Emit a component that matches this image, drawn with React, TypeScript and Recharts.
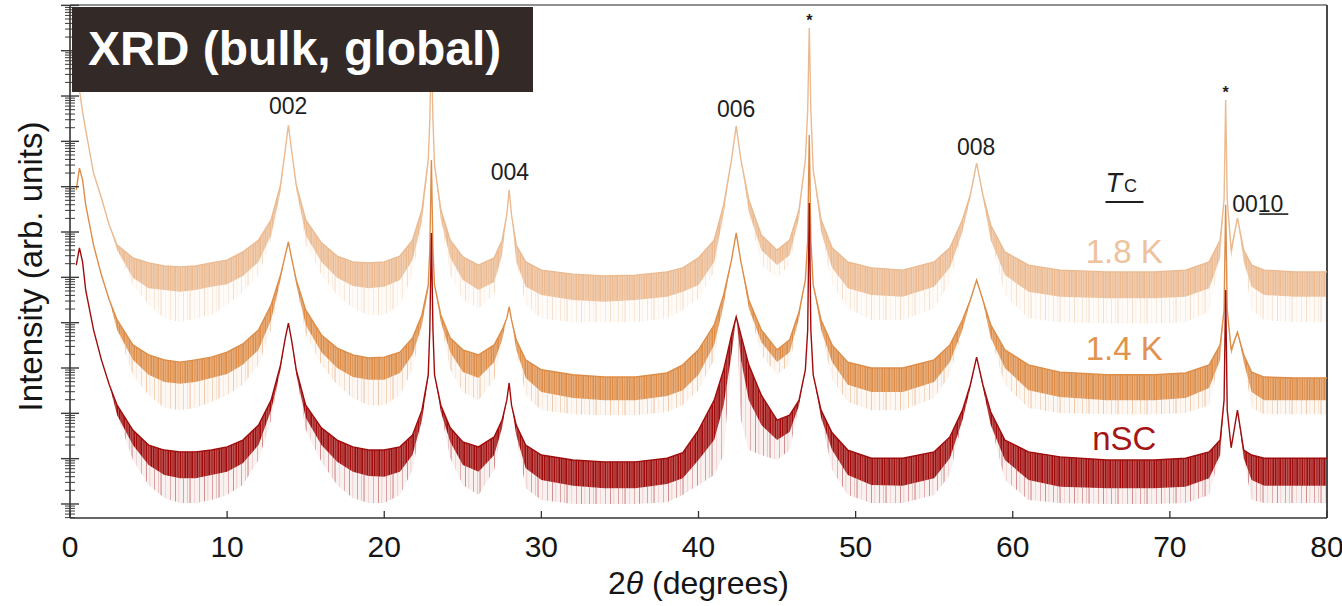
import React from 'react';
import {
  ComposedChart,
  Line,
  Area,
  XAxis,
  YAxis,
  ReferenceLine,
  ReferenceDot,
  Label,
} from 'recharts';

// ---------------- data (2θ in degrees, intensities as log10 of arb. counts) ----------------
const twoTheta = [
  0.4, 0.6, 0.8, 1.0, 1.5, 2, 2.5, 3, 4, 5,
  6, 7, 8, 9, 10, 11, 12, 12.8, 13.4, 13.7,
  13.9, 14.1, 14.4, 15, 16, 17, 18, 19, 20, 21,
  21.8, 22.4, 22.8, 22.9, 23.0, 23.1, 23.2, 23.6, 24.2, 25,
  26, 27, 27.5, 27.8, 27.95, 28.1, 28.4, 29, 30, 32,
  34, 36, 38, 39, 40, 41, 41.6, 42.1, 42.4, 42.7,
  43.2, 44, 45, 45.8, 46.4, 46.8, 46.95, 47.05, 47.15, 47.3,
  47.8, 48.5, 49.5, 51, 53, 55, 56, 56.8, 57.3, 57.7,
  58.1, 58.6, 59.5, 61, 63, 66, 69, 71, 72.5, 73.2,
  73.45, 73.55, 73.65, 73.9, 74.3, 74.7, 75.2, 76, 78, 80,
];

// Tc = 1.8 K sample: upper edge, lower edge of the dense noise, and deepest noise spikes
const k18Top = [
  10.24, 9.13, 8.65, 8.25, 7.30, 6.75, 6.15, 5.71, 5.43, 5.32,
  5.25, 5.23, 5.25, 5.32, 5.38, 5.56, 5.82, 6.27, 7.04, 7.81,
  8.36, 7.81, 7.04, 6.27, 5.76, 5.47, 5.34, 5.32, 5.34, 5.47,
  5.82, 6.49, 7.59, 8.47, 10.13, 8.47, 7.48, 6.49, 5.82, 5.45,
  5.27, 5.43, 5.82, 6.38, 6.93, 6.38, 5.71, 5.34, 5.16, 5.07,
  5.03, 5.05, 5.12, 5.21, 5.43, 5.82, 6.60, 7.59, 8.34, 7.59,
  6.71, 5.93, 5.60, 5.82, 6.49, 7.59, 8.69, 10.50, 8.69, 7.37,
  6.27, 5.65, 5.34, 5.21, 5.16, 5.34, 5.65, 6.27, 6.82, 7.52,
  6.82, 6.15, 5.56, 5.27, 5.16, 5.12, 5.12, 5.16, 5.34, 5.82,
  6.71, 8.91, 6.71, 5.60, 6.31, 5.60, 5.27, 5.16, 5.12, 5.12,
];
const k18Low = [
  10.24, 9.13, 8.65, 8.25, 7.30, 6.75, 6.15, 5.60, 4.99, 4.76,
  4.72, 4.68, 4.72, 4.79, 4.85, 5.03, 5.34, 5.93, 6.88, 7.81,
  8.36, 7.81, 6.93, 5.93, 5.34, 4.99, 4.81, 4.76, 4.79, 4.94,
  5.38, 6.22, 7.48, 8.47, 10.13, 8.47, 7.48, 6.27, 5.43, 4.94,
  4.72, 4.90, 5.49, 6.38, 6.93, 6.38, 5.34, 4.79, 4.61, 4.50,
  4.46, 4.50, 4.57, 4.68, 4.83, 5.34, 6.38, 7.59, 8.34, 7.59,
  6.44, 5.60, 5.27, 5.49, 6.31, 7.59, 8.69, 10.50, 8.69, 7.37,
  6.00, 5.21, 4.76, 4.61, 4.57, 4.79, 5.21, 6.00, 6.75, 7.52,
  6.75, 5.82, 5.05, 4.68, 4.57, 4.54, 4.54, 4.57, 4.76, 5.43,
  6.71, 8.91, 6.71, 5.43, 6.31, 5.34, 4.79, 4.61, 4.57, 4.57,
];
const k18Spike = [
  10.24, 9.13, 8.65, 8.25, 7.30, 6.75, 6.15, 5.60, 4.83, 4.39,
  4.10, 4.01, 4.10, 4.17, 4.39, 4.68, 5.05, 5.82, 6.88, 7.81,
  8.36, 7.81, 6.93, 5.71, 5.05, 4.61, 4.32, 4.17, 4.17, 4.39,
  5.05, 6.22, 7.48, 8.47, 10.13, 8.47, 7.48, 6.27, 5.05, 4.50,
  4.32, 4.61, 5.49, 6.38, 6.93, 6.38, 5.34, 4.39, 4.10, 4.01,
  4.01, 4.01, 4.10, 4.28, 4.54, 5.12, 6.38, 7.59, 8.34, 7.59,
  6.44, 5.27, 4.99, 5.27, 6.31, 7.59, 8.69, 10.50, 8.69, 7.37,
  6.00, 4.83, 4.32, 4.06, 4.06, 4.32, 4.90, 6.00, 6.75, 7.52,
  6.75, 5.82, 4.61, 4.10, 4.01, 3.99, 3.99, 4.01, 4.24, 5.43,
  6.71, 8.91, 6.71, 5.43, 6.31, 5.34, 4.28, 4.06, 4.01, 4.01,
];

// Tc = 1.4 K sample
const k14Top = [
  6.93, 7.41, 7.15, 6.60, 5.71, 5.05, 4.50, 4.06, 3.51, 3.29,
  3.18, 3.13, 3.18, 3.24, 3.35, 3.53, 3.84, 4.39, 5.05, 5.49,
  5.78, 5.43, 4.94, 4.28, 3.73, 3.44, 3.29, 3.22, 3.24, 3.35,
  3.66, 4.17, 4.83, 5.60, 7.59, 5.60, 4.83, 4.17, 3.66, 3.40,
  3.29, 3.51, 3.84, 4.10, 4.35, 4.06, 3.62, 3.18, 2.96, 2.85,
  2.80, 2.80, 2.89, 3.07, 3.40, 3.95, 4.61, 5.38, 5.98, 5.34,
  4.50, 3.84, 3.40, 3.62, 4.24, 4.94, 5.82, 8.14, 5.82, 4.83,
  4.06, 3.51, 3.13, 3.00, 3.00, 3.18, 3.51, 4.06, 4.50, 4.94,
  4.50, 3.95, 3.40, 3.07, 2.91, 2.85, 2.85, 2.89, 3.07, 3.51,
  4.28, 6.60, 4.28, 3.40, 3.79, 3.29, 2.91, 2.80, 2.78, 2.78,
];
const k14Low = [
  6.93, 7.41, 7.15, 6.60, 5.71, 5.05, 4.50, 3.84, 3.18, 2.85,
  2.69, 2.65, 2.69, 2.78, 2.87, 3.07, 3.40, 4.06, 4.94, 5.49,
  5.78, 5.43, 4.83, 3.95, 3.35, 3.00, 2.80, 2.74, 2.74, 2.89,
  3.29, 3.95, 4.72, 5.60, 7.59, 5.60, 4.83, 4.01, 3.35, 2.91,
  2.78, 3.13, 3.62, 4.10, 4.35, 4.06, 3.40, 2.78, 2.47, 2.34,
  2.29, 2.29, 2.38, 2.51, 2.85, 3.51, 4.39, 5.38, 5.98, 5.34,
  4.32, 3.57, 3.13, 3.35, 4.10, 4.94, 5.82, 8.14, 5.82, 4.83,
  3.84, 3.13, 2.63, 2.47, 2.47, 2.69, 3.13, 3.84, 4.46, 4.94,
  4.46, 3.66, 3.00, 2.51, 2.36, 2.29, 2.29, 2.34, 2.56, 3.18,
  4.28, 6.60, 4.28, 3.29, 3.79, 3.13, 2.47, 2.29, 2.29, 2.29,
];
const k14Spike = [
  6.93, 7.41, 7.15, 6.60, 5.71, 5.05, 4.50, 3.84, 2.85, 2.40,
  2.12, 2.07, 2.12, 2.25, 2.40, 2.63, 3.07, 3.84, 4.94, 5.49,
  5.78, 5.43, 4.83, 3.73, 3.07, 2.63, 2.34, 2.18, 2.18, 2.40,
  2.96, 3.95, 4.72, 5.60, 7.59, 5.60, 4.83, 4.01, 2.96, 2.47,
  2.29, 2.74, 3.62, 4.10, 4.35, 4.06, 3.40, 2.40, 2.07, 1.98,
  1.96, 1.96, 2.03, 2.18, 2.51, 3.18, 4.39, 5.38, 5.98, 5.34,
  4.32, 3.29, 2.85, 3.07, 4.10, 4.94, 5.82, 8.14, 5.82, 4.83,
  3.84, 2.74, 2.25, 2.07, 2.07, 2.34, 2.85, 3.84, 4.46, 4.94,
  4.46, 3.66, 2.63, 2.12, 2.01, 1.98, 1.98, 2.01, 2.18, 3.18,
  4.28, 6.60, 4.28, 3.29, 3.79, 3.13, 2.12, 1.98, 1.98, 1.98,
];

// non-superconducting (nSC) sample
const nscTop = [
  5.27, 5.65, 5.34, 4.72, 3.84, 3.18, 2.63, 2.18, 1.63, 1.30,
  1.19, 1.15, 1.15, 1.19, 1.26, 1.41, 1.74, 2.29, 3.07, 3.66,
  3.99, 3.62, 2.96, 2.18, 1.68, 1.41, 1.26, 1.19, 1.19, 1.26,
  1.52, 2.07, 2.85, 3.84, 5.98, 3.84, 2.85, 2.18, 1.68, 1.37,
  1.26, 1.48, 1.85, 2.29, 2.67, 2.18, 1.74, 1.30, 1.08, 0.97,
  0.93, 0.93, 1.01, 1.13, 1.63, 2.29, 2.96, 3.73, 4.13, 3.73,
  3.07, 2.40, 1.85, 1.96, 2.29, 2.96, 3.84, 6.64, 3.84, 2.85,
  2.07, 1.57, 1.19, 1.01, 1.01, 1.15, 1.48, 2.07, 2.63, 3.24,
  2.63, 2.03, 1.41, 1.15, 1.04, 0.97, 0.97, 1.01, 1.15, 1.41,
  2.29, 4.72, 2.07, 1.24, 2.07, 1.19, 1.08, 1.01, 1.01, 1.01,
];
const nscLow = [
  5.27, 5.65, 5.34, 4.72, 3.84, 3.18, 2.63, 1.96, 1.30, 0.86,
  0.64, 0.57, 0.57, 0.64, 0.71, 0.90, 1.30, 2.07, 2.96, 3.66,
  3.99, 3.62, 2.85, 1.90, 1.30, 0.93, 0.71, 0.62, 0.60, 0.71,
  1.08, 1.85, 2.78, 3.84, 5.98, 3.84, 2.85, 2.03, 1.37, 0.86,
  0.71, 1.08, 1.68, 2.29, 2.67, 2.18, 1.52, 0.79, 0.53, 0.40,
  0.35, 0.35, 0.44, 0.57, 0.97, 1.41, 2.18, 3.29, 4.13, 3.18,
  2.29, 1.74, 1.41, 1.59, 2.18, 2.96, 3.84, 6.64, 3.84, 2.85,
  1.90, 1.19, 0.64, 0.42, 0.40, 0.57, 1.01, 1.85, 2.56, 3.24,
  2.56, 1.74, 0.97, 0.53, 0.38, 0.35, 0.35, 0.38, 0.57, 1.08,
  2.29, 4.72, 2.07, 1.24, 2.07, 1.01, 0.53, 0.40, 0.40, 0.40,
];
const nscSpike = [
  5.27, 5.65, 5.34, 4.72, 3.84, 3.18, 2.63, 1.96, 0.97, 0.42,
  0.13, 0.02, 0.02, 0.09, 0.20, 0.42, 0.97, 1.85, 2.96, 3.66,
  3.99, 3.62, 2.85, 1.63, 0.93, 0.42, 0.13, 0.02, 0.02, 0.20,
  0.75, 1.85, 2.78, 3.84, 5.98, 3.84, 2.85, 2.03, 1.01, 0.42,
  0.20, 0.75, 1.68, 2.29, 2.67, 2.18, 1.52, 0.35, 0.09, 0.00,
  0.00, 0.00, 0.04, 0.20, 0.42, 0.64, 1.08, 3.29, 4.13, 1.85,
  1.19, 1.08, 0.97, 1.19, 2.18, 2.96, 3.84, 6.64, 3.84, 2.85,
  1.90, 0.75, 0.20, 0.02, 0.02, 0.20, 0.64, 1.85, 2.56, 3.24,
  2.56, 1.74, 0.53, 0.09, 0.02, 0.00, 0.00, 0.02, 0.20, 1.08,
  2.29, 4.72, 2.07, 1.24, 2.07, 1.01, 0.09, 0.02, 0.02, 0.02,
];

const xTicks = [0, 10, 20, 30, 40, 50, 60, 70, 80];
const peakNames = ['002', '004', '006', '008'];
const peakAt = [13.88, 28.0, 42.4, 57.67];
const peakLabelLog = [8.6, 7.15, 8.54, 7.7];
const substratePeaks = [47.05, 73.55];
const substrateStarLog = [10.54, 8.96];
const sampleNames = ['1.8 K', '1.4 K', 'nSC'];
const sampleLabelLog = [5.32, 3.18, 1.19];

// ---------------- styling / layout ----------------
const FONT = '"Liberation Sans", Arial, Helvetica, sans-serif';
const SERIES = [
  { key: 'k18', color: '#EBBA90' },
  { key: 'k14', color: '#DE8D48' },
  { key: 'nsc', color: '#A00C0C' },
];
const LABEL_COLORS = ['#EEC29C', '#E0944F', '#A51515'];
const LOG_MIN = -0.309;
const LOG_MAX = 11.008;
const W = 1342;
const H = 606;

// streak layouts for the noise textures: [x, width, opacity]
const CORE_STREAKS: [number, number, number][] = [
  [0, 1.3, 1], [2.6, 0.8, 1], [4.4, 1.6, 1], [7.5, 0.9, 1], [9.8, 1.2, 1],
  [12.4, 0.7, 1], [14.5, 1.5, 1],
];
const SPIKE_STREAKS: [number, number, number][] = [
  [1, 1, 0.75], [4.5, 0.7, 0.35], [9, 1, 0.6], [13, 0.8, 0.4], [15.5, 1.1, 0.8],
  [20, 0.7, 0.3], [25, 0.9, 0.55],
];

const pow = (l: number) => Math.pow(10, l);

const table = twoTheta.map((t, i) => ({
  t,
  k18Band: [pow(k18Low[i]), pow(k18Top[i])],
  k18Spikes: [pow(k18Spike[i]), pow(k18Low[i])],
  k18: pow(k18Top[i]),
  k14Band: [pow(k14Low[i]), pow(k14Top[i])],
  k14Spikes: [pow(k14Spike[i]), pow(k14Low[i])],
  k14: pow(k14Top[i]),
  nscBand: [pow(nscLow[i]), pow(nscTop[i])],
  nscSpikes: [pow(nscSpike[i]), pow(nscLow[i])],
  nsc: pow(nscTop[i]),
}));

// log ticks: decades (major) and 2..9 sub-decades (minor)
const yTicks: number[] = [];
for (let n = -1; n <= 11; n++) {
  for (let k = 1; k <= 9; k++) {
    const v = k * Math.pow(10, n);
    const lg = Math.log10(v);
    if (lg >= LOG_MIN - 1e-9 && lg <= LOG_MAX + 1e-9) yTicks.push(v);
  }
}

const YTick = (props: any) => {
  const { x, y, payload } = props;
  const lg = Math.log10(payload.value);
  const major = Math.abs(lg - Math.round(lg)) < 1e-6;
  const half = major ? 9 : 5;
  return (
    <line
      x1={x - half}
      x2={x + half}
      y1={y}
      y2={y}
      stroke="#3a3a3a"
      strokeWidth={major ? 1.4 : 1}
    />
  );
};

const XTick = (props: any) => {
  const { x, y, payload } = props;
  return (
    <g>
      <line x1={x} x2={x} y1={y} y2={y - 7} stroke="#333" strokeWidth={1.3} />
      <text
        x={x}
        y={y + 39}
        textAnchor="middle"
        fontSize={30}
        fill="#151515"
        fontFamily={FONT}
      >
        {payload.value}
      </text>
    </g>
  );
};

const XTitle = (props: any) => {
  const { x, y, width } = props.viewBox;
  return (
    <text
      x={x + width / 2}
      y={y + 76}
      textAnchor="middle"
      fontSize={32}
      fill="#151515"
      fontFamily={FONT}
    >
      2<tspan fontStyle="italic">θ</tspan> (degrees)
    </text>
  );
};

const YTitle = (props: any) => {
  const { y, height } = props.viewBox;
  const cx = 42;
  const cy = y + height / 2 + 5;
  return (
    <text
      x={cx}
      y={cy}
      transform={`rotate(-90, ${cx}, ${cy})`}
      textAnchor="middle"
      fontSize={33}
      fill="#151515"
      fontFamily={FONT}
    >
      Intensity (arb. units)
    </text>
  );
};

// noise textures (vertical streaks) used to fill the noisy bands
const NoiseDefs = () => (
  <svg width={0} height={0} style={{ position: 'absolute' }}>
    <defs>
      {SERIES.map((s) => (
        <React.Fragment key={s.key}>
          <pattern id={`core-${s.key}`} width={17} height={8} patternUnits="userSpaceOnUse">
            <rect width={17} height={8} fill={s.color} fillOpacity={0.7} />
            {CORE_STREAKS.map(([x, w, o], j) => (
              <rect key={j} x={x} width={w} height={8} fill={s.color} fillOpacity={o} />
            ))}
          </pattern>
          <pattern id={`spike-${s.key}`} width={29} height={8} patternUnits="userSpaceOnUse">
            <rect width={29} height={8} fill={s.color} fillOpacity={0.1} />
            {SPIKE_STREAKS.map(([x, w, o], j) => (
              <rect key={j} x={x} width={w} height={8} fill={s.color} fillOpacity={o} />
            ))}
          </pattern>
        </React.Fragment>
      ))}
    </defs>
  </svg>
);

export default function App() {
  return (
    <div style={{ position: 'absolute', left: 0, top: 0, width: W, height: H, background: '#fff' }}>
      <NoiseDefs />
      <ComposedChart
        width={W}
        height={H}
        data={table}
        margin={{ top: 5, right: 15, bottom: 0, left: 0 }}
      >
        <XAxis
          dataKey="t"
          type="number"
          domain={[0, 80]}
          ticks={xTicks}
          interval={0}
          allowDataOverflow
          height={88}
          tickSize={0}
          tickMargin={0}
          tickLine={false}
          tick={<XTick />}
          axisLine={{ stroke: '#333', strokeWidth: 1.6 }}
        >
          <Label content={<XTitle />} />
        </XAxis>
        <YAxis
          type="number"
          scale="log"
          domain={[pow(LOG_MIN), pow(LOG_MAX)]}
          allowDataOverflow
          ticks={yTicks}
          interval={0}
          width={70}
          tickSize={0}
          tickMargin={0}
          tickLine={false}
          tick={<YTick />}
          axisLine={{ stroke: '#333', strokeWidth: 1.6 }}
        >
          <Label content={<YTitle />} />
        </YAxis>

        <ReferenceLine y={pow(LOG_MAX)} stroke="#6d6d6d" strokeWidth={1.6} ifOverflow="visible" />
        <ReferenceLine x={80} stroke="#4a4a4a" strokeWidth={2} ifOverflow="visible" />

        {SERIES.flatMap((s) => [
          <Area
            key={`${s.key}-spikes`}
            dataKey={`${s.key}Spikes`}
            type="linear"
            stroke="none"
            fill={`url(#spike-${s.key})`}
            isAnimationActive={false}
          />,
          <Area
            key={`${s.key}-band`}
            dataKey={`${s.key}Band`}
            type="linear"
            stroke="none"
            fill={`url(#core-${s.key})`}
            fillOpacity={1}
            isAnimationActive={false}
          />,
          <Line
            key={`${s.key}-line`}
            dataKey={s.key}
            type="linear"
            stroke={s.color}
            strokeWidth={1.4}
            dot={false}
            isAnimationActive={false}
          />,
        ])}

        {peakNames.map((name, i) => (
          <ReferenceDot
            key={name}
            x={peakAt[i]}
            y={pow(peakLabelLog[i])}
            ifOverflow="visible"
            shape={(p: any) => (
              <text
                x={p.cx}
                y={p.cy}
                textAnchor="middle"
                fontSize={23}
                fill="#1e1e1e"
                fontFamily={FONT}
              >
                {name}
              </text>
            )}
          />
        ))}
        <ReferenceDot
          x={73.97}
          y={pow(6.44)}
          ifOverflow="visible"
          shape={(p: any) => (
            <g>
              <text x={p.cx} y={p.cy} fontSize={23} fill="#1e1e1e" fontFamily={FONT}>
                0010
              </text>
              <line x1={p.cx + 27} x2={p.cx + 56} y1={p.cy + 2} y2={p.cy + 2} stroke="#1e1e1e" strokeWidth={1.6} />
            </g>
          )}
        />
        {substratePeaks.map((t, i) => (
          <ReferenceDot
            key={`star${t}`}
            x={t}
            y={pow(substrateStarLog[i])}
            ifOverflow="visible"
            shape={(p: any) => (
              <text
                x={p.cx}
                y={p.cy}
                textAnchor="middle"
                fontSize={16}
                fontWeight="bold"
                fill="#1e1e1e"
                fontFamily={FONT}
              >
                *
              </text>
            )}
          />
        ))}
        <ReferenceDot
          x={65.9}
          y={pow(6.88)}
          ifOverflow="visible"
          shape={(p: any) => (
            <g>
              <text x={p.cx} y={p.cy} fill="#1e1e1e" fontFamily={FONT}>
                <tspan fontSize={27} fontStyle="italic">T</tspan>
                <tspan fontSize={18} dx={2}>C</tspan>
              </text>
              <line x1={p.cx} x2={p.cx + 38} y1={p.cy + 10} y2={p.cy + 10} stroke="#1e1e1e" strokeWidth={2} />
            </g>
          )}
        />
        {sampleNames.map((name, i) => (
          <ReferenceDot
            key={name}
            x={67.1}
            y={pow(sampleLabelLog[i])}
            ifOverflow="visible"
            shape={(p: any) => (
              <text
                x={p.cx}
                y={p.cy}
                textAnchor="middle"
                fontSize={33}
                fill={LABEL_COLORS[i]}
                fontFamily={FONT}
              >
                {name}
              </text>
            )}
          />
        ))}
      </ComposedChart>
      <svg
        width={W}
        height={H}
        style={{ position: 'absolute', left: 0, top: 0, pointerEvents: 'none' }}
      >
        <rect x={72} y={7} width={461} height={85} fill="#332A27" />
        <text x={88} y={65} fontSize={48} fontWeight="bold" fill="#ffffff" fontFamily={FONT}>
          XRD (bulk, global)
        </text>
      </svg>
    </div>
  );
}
